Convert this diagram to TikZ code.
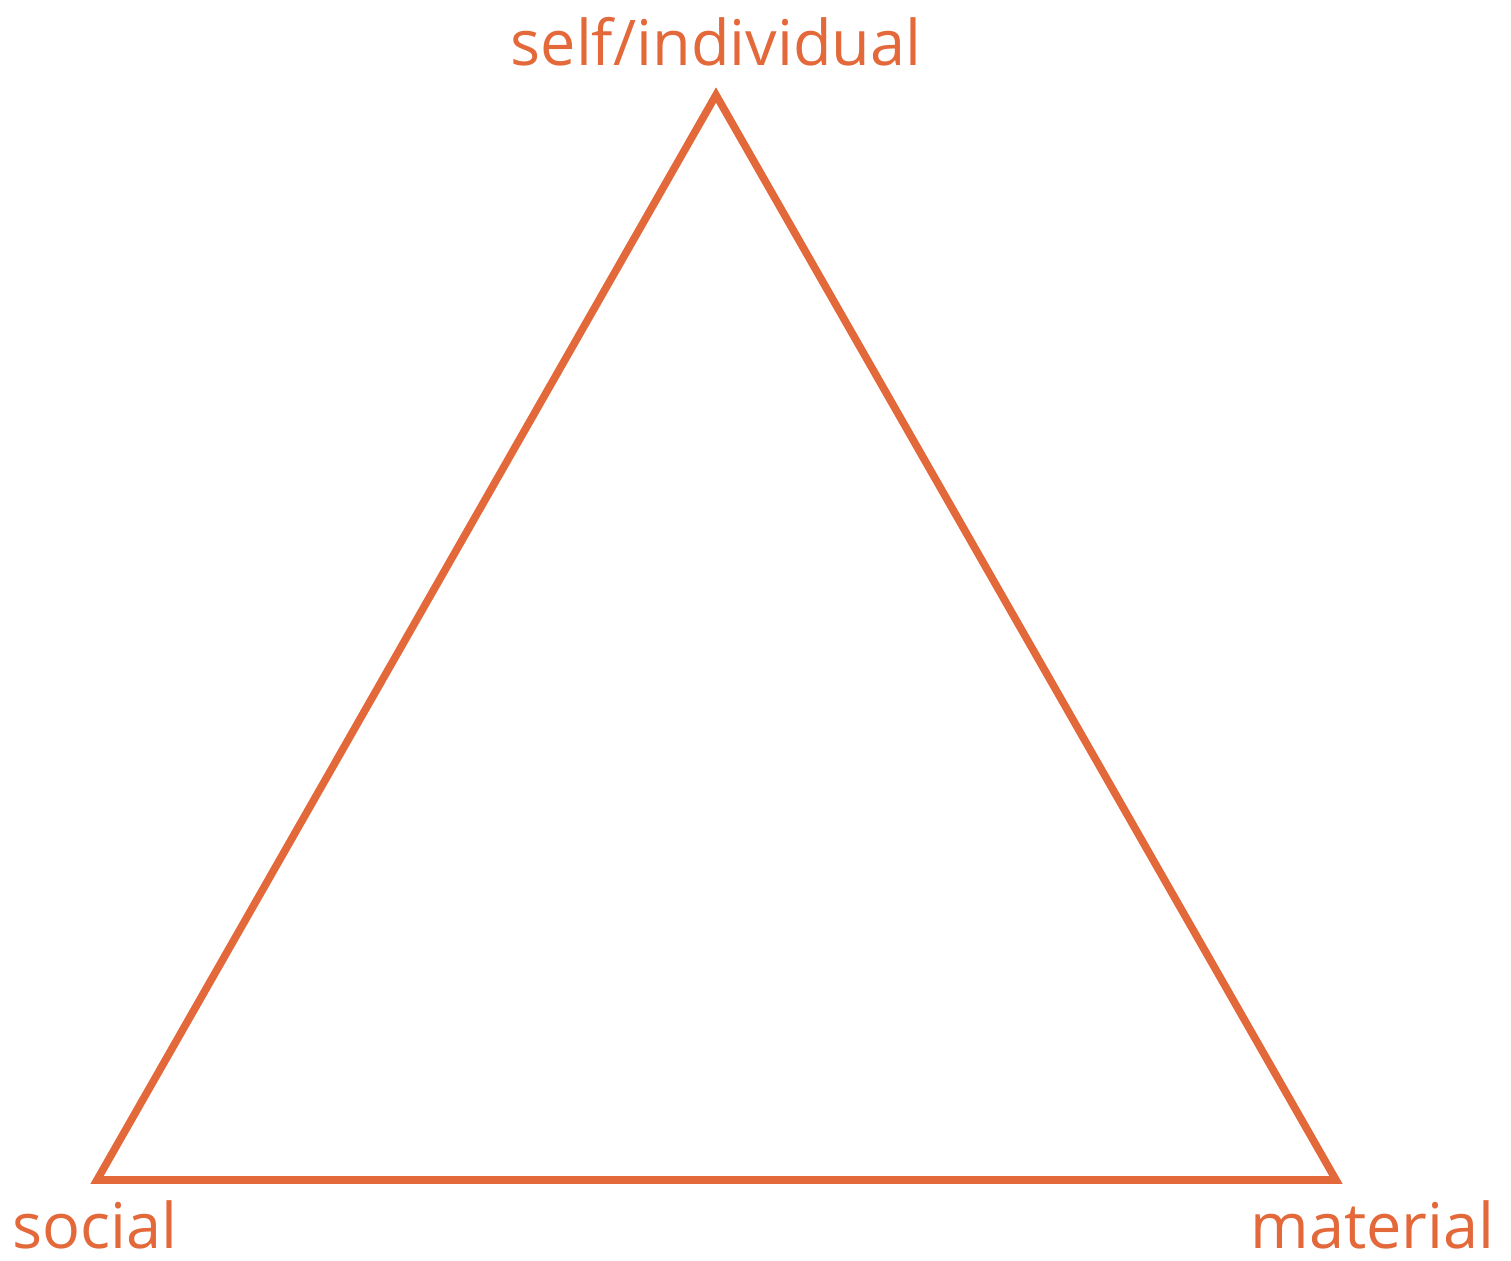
\documentclass[tikz,border=0pt]{standalone}
\usepackage{fontspec}
\setmainfont{Open Sans}
\definecolor{tri}{HTML}{E3683A}
\begin{document}
\begin{tikzpicture}[x=0.5pt,y=-0.5pt,
  lbl/.style={text=tri,font=\fontsize{31.5}{36}\selectfont,inner sep=0pt,anchor=base}]
\useasboundingbox (0,0) rectangle (1511,1260);
\coordinate (T) at (716,95);
\coordinate (L) at (97,1180);
\coordinate (R) at (1336,1180);
\draw[tri,line width=3.8pt,line join=miter] (T) -- (R) -- (L) -- cycle;
\node[lbl] (top) at (716,65) {self/individual};
\node[lbl,anchor=base west] (soc) at (12,1248) {social};
\node[lbl,anchor=base east] (mat) at (1495,1248) {material};
\end{tikzpicture}
\end{document}
